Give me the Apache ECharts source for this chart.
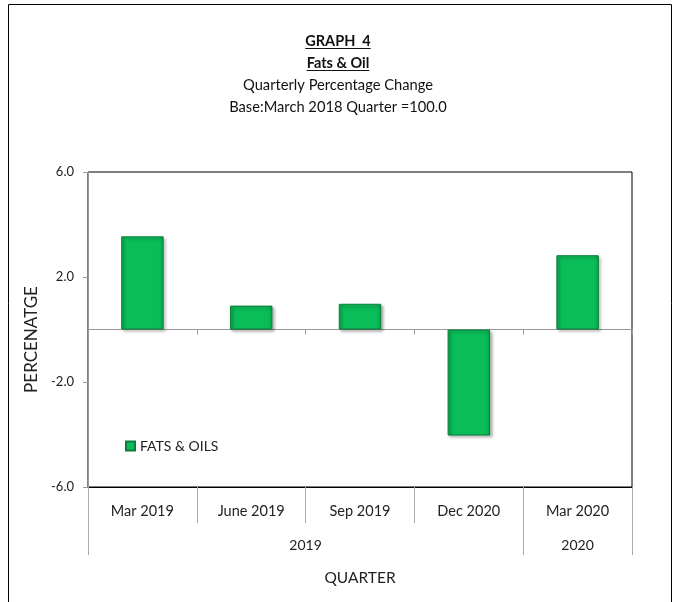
<!DOCTYPE html>
<html><head><meta charset="utf-8">
<script src="https://cdn.jsdelivr.net/npm/echarts@6/dist/echarts.min.js"></script>
<style>html,body{margin:0;padding:0;background:#fff}#c{width:676px;height:602px}</style>
</head><body><div id="c"></div>
<script>
const categories = ['Mar 2019', 'June 2019', 'Sep 2019', 'Dec 2020', 'Mar 2020'];
const fatsOils = [3.55, 0.91, 0.98, -4.04, 2.83];
const yearLabels = ['2019', '2020'];
const yearPositions = [2, 4.5];
const yearBounds = [0, 4, 5];
const titles = ['GRAPH  4', 'Fats & Oil', 'Quarterly Percentage Change', 'Base:March 2018 Quarter =100.0'];

const FONT = 'Lato';
const titleCenters = [40, 62, 84, 106];
const titleSizes = [14.5, 14.5, 14.7, 14.7];
const titleWeights = ['bold', 'bold', 'normal', 'normal'];

const cv = document.createElement('canvas').getContext('2d');
function textW(t, size, weight) { cv.font = weight + ' ' + size + 'px ' + FONT; return cv.measureText(t).width; }

const underlines = [0, 1].map(i => {
  const w = textW(titles[i], titleSizes[i], titleWeights[i]);
  const y = titleCenters[i] + 8.5;
  return {type: 'line', silent: true, shape: {x1: 338 - w / 2, y1: y, x2: 338 + w / 2, y2: y}, style: {stroke: '#111', lineWidth: 1}};
});

const chart = echarts.init(document.getElementById('c'), null, {renderer: 'canvas'});
chart.setOption({
  animation: false,
  textStyle: {fontFamily: FONT},
  title: titles.map((t, i) => ({
    text: t, left: 'center', top: titleCenters[i] - 5 - titleSizes[i] / 2 + 1,
    textStyle: {fontFamily: FONT, fontSize: titleSizes[i], fontWeight: titleWeights[i], color: '#111'}
  })),
  graphic: [
    {type: 'rect', silent: true, shape: {x: 8.5, y: 4.5, width: 663, height: 620}, style: {fill: null, stroke: '#000', lineWidth: 1}}
  ].concat(underlines),
  legend: {
    left: 120, top: 434, icon: 'rect', itemWidth: 9, itemHeight: 9,
    textStyle: {fontFamily: FONT, fontSize: 14, color: '#222'},
    data: ['FATS & OILS']
  },
  grid: {left: 88, right: 44, top: 172, bottom: 115, show: true, borderColor: '#000', borderWidth: 1, containLabel: false},
  xAxis: [
    {
      type: 'category', data: categories, position: 'bottom',
      axisLine: {onZero: false, lineStyle: {color: '#000'}},
      axisTick: {show: true, length: 36, interval: 0, lineStyle: {color: '#aaa'}},
      axisLabel: {margin: 17, fontFamily: FONT, fontSize: 14.5, color: '#222', interval: 0}
    },
    {
      type: 'value', min: 0, max: 5, position: 'bottom',
      name: 'QUARTER', nameLocation: 'middle', nameGap: 83,
      nameTextStyle: {fontFamily: FONT, fontSize: 15.5, color: '#222'},
      axisLine: {show: false, onZero: false},
      splitLine: {show: false},
      axisTick: {show: true, length: 68, customValues: yearBounds, lineStyle: {color: '#aaa'}},
      axisLabel: {
        margin: 51, fontFamily: FONT, fontSize: 14, color: '#222',
        customValues: yearPositions,
        formatter: v => { const i = yearPositions.indexOf(v); return i >= 0 ? yearLabels[i] : ''; }
      }
    },
    {
      type: 'category', data: categories, position: 'bottom',
      axisLine: {onZero: true, lineStyle: {color: '#999'}},
      axisTick: {show: true, length: 5, interval: 0, lineStyle: {color: '#999'}},
      axisLabel: {show: false}
    }
  ],
  yAxis: {
    type: 'value', min: -6, max: 6, interval: 4,
    name: 'PERCENATGE', nameLocation: 'middle', nameGap: 48, nameRotate: 90,
    nameTextStyle: {fontFamily: FONT, fontSize: 17, color: '#222', padding: [0, 20, 0, 0]},
    axisLine: {show: true, lineStyle: {color: '#999'}},
    axisTick: {show: true, length: 5, lineStyle: {color: '#999'}},
    splitLine: {show: false},
    axisLabel: {margin: 14, fontFamily: FONT, fontSize: 13, color: '#222', formatter: v => v.toFixed(1)}
  },
  series: [{
    name: 'FATS & OILS', type: 'bar', data: fatsOils, xAxisIndex: 0, yAxisIndex: 0,
    barWidth: '39%',
    itemStyle: {
      color: new echarts.graphic.LinearGradient(0, 0, 1, 0, [
        {offset: 0, color: '#07a84c'}, {offset: 0.12, color: '#0abd58'},
        {offset: 0.88, color: '#0abd58'}, {offset: 1, color: '#07a84c'}
      ]),
      borderColor: '#0a7e3a', borderWidth: 1,
      shadowColor: 'rgba(0,0,0,0.3)', shadowBlur: 3, shadowOffsetX: 2, shadowOffsetY: 2
    }
  }]
});
</script></body></html>
